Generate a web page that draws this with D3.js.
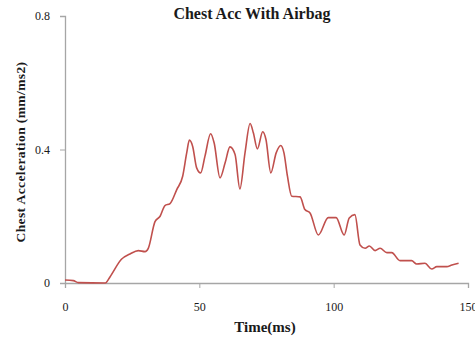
<!DOCTYPE html>
<html>
<head>
<meta charset="utf-8">
<script src="https://cdn.jsdelivr.net/npm/d3@7"></script>
<style>
  body { margin: 0; background: #fff; }
  text { font-family: "Liberation Serif", "DejaVu Serif", serif; fill: #1a1a1a; }
</style>
</head>
<body>
<svg width="475" height="339"></svg>
<script>
// time (ms) and chest acceleration
const timeMs = [0, 3.1, 5, 15, 16.8, 21, 24.2, 27.3, 29.8, 31, 33.5, 35.4, 37.2, 39.1, 41.6, 43.8,
  45.3, 46.3, 47.5, 49, 50.5, 52.1, 54.2, 55.5, 57.7, 59.6, 61.4, 63.3, 65.1, 67, 68.9,
  70.1, 71.6, 73.6, 74.8, 76.6, 78.6, 80.3, 81.5, 82.8, 84.4, 87.5, 89.3, 91.2, 94.3,
  98, 100.9, 103.9, 105.8, 107.9, 109.8, 111.7, 113.3, 115.4, 117.3, 119.8, 121.6,
  124.7, 129, 130.9, 134, 136.5, 138.4, 142.1, 144, 146.5]
const chestAcc = [0.009, 0.007, 0.001, 0, 0.019, 0.071, 0.087, 0.097, 0.094, 0.104, 0.184, 0.2, 0.232, 0.238, 0.28, 0.32,
  0.39, 0.428, 0.41, 0.345, 0.33, 0.38, 0.447, 0.42, 0.315, 0.36, 0.408, 0.385, 0.282, 0.39, 0.478,
  0.45, 0.402, 0.453, 0.43, 0.33, 0.39, 0.412, 0.39, 0.32, 0.26, 0.258, 0.22, 0.21, 0.144,
  0.196, 0.196, 0.144, 0.195, 0.205, 0.114, 0.104, 0.111, 0.097, 0.104, 0.091, 0.091,
  0.067, 0.067, 0.057, 0.059, 0.042, 0.049, 0.049, 0.054, 0.059]
const xTicks = [0, 50, 100, 150]
const yTicks = [0, 0.4, 0.8]

const svg = d3.select('svg')
const x = d3.scaleLinear().domain([0, 150]).range([65, 468])
const y = d3.scaleLinear().domain([0, 0.8]).range([283, 16])

// axes
const xAxis = svg.append('g')
  .attr('transform', `translate(0,${y(0)})`)
  .call(d3.axisBottom(x).tickValues(xTicks).tickSize(5).tickPadding(14))
const yAxis = svg.append('g')
  .attr('transform', `translate(${x(0)},0)`)
  .call(d3.axisLeft(y).tickValues(yTicks).tickFormat(d => d === 0 ? '0' : d3.format('.1f')(d)).tickSize(5).tickPadding(10))

for (const g of [xAxis, yAxis]) {
  g.select('.domain').attr('stroke', '#a6a6a6').attr('stroke-width', 1.3)
  g.selectAll('.tick line').attr('stroke', '#a6a6a6')
  g.selectAll('.tick text').attr('font-size', 12).attr('font-family', '"Liberation Serif", serif').attr('fill', '#333')
}

// the line
const line = d3.line()
  .x((d, i) => x(timeMs[i]))
  .y(d => y(d))
  .curve(d3.curveMonotoneX)

svg.append('path')
  .datum(chestAcc)
  .attr('d', line)
  .attr('fill', 'none')
  .attr('stroke', '#c0504d')
  .attr('stroke-width', 1.6)

// texts
svg.append('text')
  .attr('x', 252).attr('y', 19)
  .attr('text-anchor', 'middle')
  .attr('font-weight', 'bold').attr('font-size', 16)
  .text('Chest Acc With Airbag')

svg.append('text')
  .attr('x', 265).attr('y', 332)
  .attr('text-anchor', 'middle')
  .attr('font-weight', 'bold').attr('font-size', 15)
  .text('Time(ms)')

svg.append('text')
  .attr('transform', 'translate(25,152) rotate(-90)')
  .attr('text-anchor', 'middle')
  .attr('font-weight', 'bold').attr('font-size', 13.5)
  .attr('letter-spacing', 0.4)
  .text('Chest Acceleration (mm/ms2)')
</script>
</body>
</html>
